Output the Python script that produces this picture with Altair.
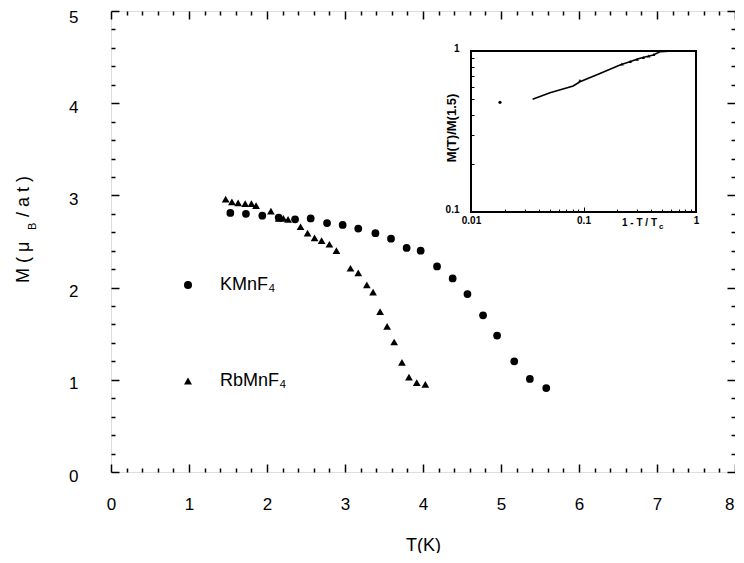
import altair as alt
import pandas as pd

# ---------------- data ----------------
# KMnF4 (filled circles)
k_T = [1.53, 1.73, 1.94, 2.15, 2.36, 2.56, 2.77, 2.97, 3.17, 3.39, 3.59, 3.79, 3.97,
       4.18, 4.38, 4.57, 4.77, 4.95, 5.17, 5.37, 5.58]
k_M = [2.81, 2.80, 2.78, 2.76, 2.74, 2.75, 2.70, 2.68, 2.64, 2.59, 2.53, 2.43, 2.40,
       2.23, 2.10, 1.93, 1.70, 1.48, 1.20, 1.01, 0.91]
# RbMnF4 (filled triangles)
r_T = [1.47, 1.55, 1.63, 1.72, 1.80, 1.86, 2.05, 2.15, 2.21, 2.27, 2.43, 2.52, 2.61,
       2.70, 2.80, 2.89, 3.07, 3.17, 3.28, 3.36, 3.45, 3.54, 3.63, 3.73, 3.82, 3.92, 4.03]
r_M = [2.96, 2.93, 2.92, 2.91, 2.91, 2.89, 2.83, 2.75, 2.75, 2.74, 2.66, 2.59, 2.54,
       2.51, 2.47, 2.40, 2.21, 2.16, 2.03, 1.95, 1.74, 1.58, 1.41, 1.19, 1.03, 0.97, 0.95]
series_names = ["KMnF₄", "RbMnF₄"]

# inset: M(T)/M(1.5) vs 1 - T/Tc (log-log)
ins_line_x = [0.0353, 0.0504, 0.081, 0.093, 0.140, 0.211, 0.318, 0.417, 0.478, 0.63]
ins_line_y = [0.501, 0.551, 0.607, 0.644, 0.726, 0.818, 0.901, 0.944, 0.99, 1.0]
ins_tri_x = [0.093, 0.22, 0.26, 0.30, 0.34, 0.38, 0.42]
ins_tri_y = [0.655, 0.83, 0.86, 0.89, 0.91, 0.93, 0.95]
ins_dot_x = [0.0181]
ins_dot_y = [0.48]

# axis tick values
x_major = [0, 1, 2, 3, 4, 5, 6, 7, 8]
y_major = [0, 1, 2, 3, 4, 5]
x_ticks = [round(i * 0.2, 1) for i in range(41)]
y_ticks = [round(i * 0.2, 1) for i in range(26)]
ix_major = [0.01, 0.1, 1]
iy_major = [0.1, 1]
ix_ticks = [round(m * d, 3) for d in (0.01, 0.1) for m in range(1, 10)] + [1]
iy_ticks = [round(m * 0.1, 2) for m in range(1, 10)] + [1]

# ---------------- layout ----------------
W, H = 624, 461
F = "Liberation Sans"
IX0, IX1, IY0, IY1 = 360, 585, 201, 40   # inset frame in plot pixels

main_df = pd.DataFrame({
    "T": k_T + r_T,
    "M": k_M + r_M,
    "series": [series_names[0]] * len(k_T) + [series_names[1]] * len(r_T),
})

xs = alt.Scale(domain=[0, 8], nice=False, zero=False)
ys = alt.Scale(domain=[0, 5], nice=False, zero=False)

major_cond = {"condition": {"test": "abs(datum.value - round(datum.value)) < 0.001", "value": 8}, "value": 4}
last_x_align = {"condition": {"test": "datum.value >= 8", "value": "right"}, "value": "center"}
last_x_offset = {"condition": {"test": "datum.value >= 8", "value": -1}, "value": 0}
top_y_offset = {"condition": {"test": "datum.value >= 5", "value": 6}, "value": 4}

common_tick = dict(labels=False, domain=False, grid=False, title=None,
                   tickColor="black", tickWidth=1.5)

x_lab = alt.Axis(orient="bottom", values=x_major, ticks=False, tickSize=0, domain=False,
                 grid=False, labelPadding=24, labelFont=F, labelFontSize=17,
                 labelColor="black", labelFlush=False, format="d",
                 labelAlign=last_x_align, labelOffset=last_x_offset,
                 title="T(K)", titleFont=F, titleFontSize=18, titleFontWeight="normal",
                 titleColor="black", titlePadding=24)
y_lab = alt.Axis(orient="left", values=y_major, ticks=False, tickSize=0, domain=False,
                 grid=False, labelPadding=33, labelFont=F, labelFontSize=17,
                 labelColor="black", labelFlush=False, labelOffset=top_y_offset,
                 format="d", title=None)
x_tk_bot = alt.Axis(orient="top", offset=-H, values=x_ticks, tickSize=major_cond, **common_tick)
x_tk_top = alt.Axis(orient="bottom", offset=-H, values=x_ticks, tickSize=major_cond, **common_tick)
y_tk_left = alt.Axis(orient="right", offset=-W, values=y_ticks, tickSize=major_cond, **common_tick)
y_tk_right = alt.Axis(orient="left", offset=-W, values=y_ticks, tickSize=major_cond, **common_tick)

pts = alt.Chart(main_df).mark_point(filled=True, opacity=1, color="black", size=60).encode(
    x=alt.X("T:Q", scale=xs, axis=x_lab),
    y=alt.Y("M:Q", scale=ys, axis=y_lab),
    shape=alt.Shape("series:N",
                    scale=alt.Scale(domain=series_names, range=["circle", "triangle-up"]),
                    legend=alt.Legend(orient="none", legendX=68, legendY=265, title=None,
                                      labelFont=F, labelFontSize=18, labelColor="black",
                                      symbolSize=64, symbolFillColor="black",
                                      symbolStrokeWidth=0, rowPadding=78, labelOffset=23,
                                      padding=0)),
)
carrier1 = alt.Chart(main_df).mark_point(opacity=0).encode(
    x=alt.X("T:Q", scale=xs, axis=x_tk_bot),
    y=alt.Y("M:Q", scale=ys, axis=y_tk_left),
)
carrier2 = alt.Chart(main_df).mark_point(opacity=0).encode(
    x=alt.X("T:Q", scale=xs, axis=x_tk_top),
    y=alt.Y("M:Q", scale=ys, axis=y_tk_right),
)
main = alt.layer(pts, carrier1, carrier2).resolve_axis(x="independent", y="independent")

# ---------------- inset ----------------
ixs = alt.Scale(type="log", domain=[0.01, 1], range=[IX0, IX1], nice=False)
iys = alt.Scale(type="log", domain=[0.1, 1], range=[IY0, IY1], nice=False)
log_cond = {"condition": {"test": "abs(log(datum.value)/LN10 - round(log(datum.value)/LN10)) < 0.001",
                          "value": 5}, "value": 3}

ix_lab = alt.Axis(orient="bottom", offset=-(H - IY0), values=ix_major, format="~g",
                  ticks=False, tickSize=0, domain=False, grid=False, labelPadding=3,
                  labelFont=F, labelFontSize=10, labelFontWeight="bold", labelColor="black",
                  labelFlush=False, title=None)
iy_lab = alt.Axis(orient="left", offset=-IX0, values=iy_major, format="~g",
                  ticks=False, tickSize=0, domain=False, grid=False, labelPadding=12,
                  labelFont=F, labelFontSize=10, labelFontWeight="bold", labelColor="black",
                  labelFlush=False, labelOffset=-3, title=None)
ix_tk = alt.Axis(orient="top", offset=-IY0, values=ix_ticks, tickSize=log_cond,
                 labels=False, domain=False, grid=False, title=None,
                 tickColor="black", tickWidth=1)
iy_tk = alt.Axis(orient="right", offset=-(W - IX0), values=iy_ticks, tickSize=log_cond,
                 labels=False, domain=False, grid=False, title=None,
                 tickColor="black", tickWidth=1)

frame_df = pd.DataFrame({"x0": [ix_major[0]], "x1": [ix_major[-1]],
                         "y0": [iy_major[0]], "y1": [iy_major[-1]]})
frame = alt.Chart(frame_df).mark_rect(fillOpacity=0, stroke="black", strokeWidth=2).encode(
    x=alt.X("x0:Q", scale=ixs, axis=ix_lab), x2="x1:Q",
    y=alt.Y("y0:Q", scale=iys, axis=iy_lab), y2="y1:Q",
)
line_df = pd.DataFrame({"x": ins_line_x, "y": ins_line_y})
iline = alt.Chart(line_df).mark_line(color="black", strokeWidth=1.6).encode(
    x=alt.X("x:Q", scale=ixs, axis=ix_tk),
    y=alt.Y("y:Q", scale=iys, axis=iy_tk),
)
tri_df = pd.DataFrame({"x": ins_tri_x, "y": ins_tri_y})
itri = alt.Chart(tri_df).mark_point(shape="triangle-up", filled=True, color="black",
                                    opacity=1, size=12).encode(
    x=alt.X("x:Q", scale=ixs, axis=None),
    y=alt.Y("y:Q", scale=iys, axis=None),
)
dot_df = pd.DataFrame({"x": ins_dot_x, "y": ins_dot_y})
idot = alt.Chart(dot_df).mark_point(shape="circle", filled=True, color="black",
                                    opacity=1, size=10).encode(
    x=alt.X("x:Q", scale=ixs, axis=None),
    y=alt.Y("y:Q", scale=iys, axis=None),
)
inset = alt.layer(frame, iline, itri, idot).resolve_axis(x="independent", y="independent")

# ---------------- text (titles with subscripts) ----------------
one = alt.Data(values=[{"a": 0}])


def txt(s, x, y, size, angle=0, align="left", weight="normal"):
    return alt.Chart(one).mark_text(text=s, font=F, fontSize=size, angle=angle,
                                    align=align, baseline="middle", fontWeight=weight,
                                    color="black").encode(x=alt.value(x), y=alt.value(y))


texts = [
    txt("M  ( μ", -87, 272, 18, angle=270),
    txt("B", -78, 219, 11, angle=270),
    txt("/ a t )", -87, 206, 18, angle=270),
    txt("M(T)/M(1.5)", 341, 117, 13, angle=270, align="center", weight="bold"),
    txt("1 - T / T", 511, 212, 10, weight="bold"),
    txt("c", 548, 216, 8, weight="bold"),
]

chart = alt.layer(main, inset, *texts).resolve_scale(
    x="independent", y="independent"
).properties(
    width=W, height=H,
    autosize=alt.AutoSizeParams(type="none"),
    padding={"left": 103, "top": 3, "right": 0, "bottom": 81},
).configure_view(stroke="black", strokeWidth=2).configure(background="white")

chart.save("out.html", embed_options={"renderer": "svg", "actions": False})
